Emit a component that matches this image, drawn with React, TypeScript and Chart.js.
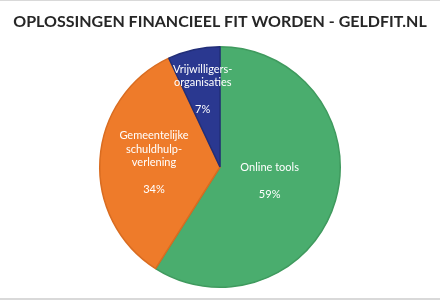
import React, { useEffect, useRef } from "react";
import { Chart, registerables } from "chart.js";

Chart.register(...registerables);

const chartTitle = "OPLOSSINGEN FINANCIEEL FIT WORDEN - GELDFIT.NL";
const categories = ["Online tools", "Gemeentelijke schuldhulpverlening", "Vrijwilligersorganisaties"];
const labelLines = [["Online tools"], ["Gemeentelijke", "schuldhulp-", "verlening"], ["Vrijwilligers-", "organisaties"]];
const shares = [59, 34, 7];
const sliceColors = ["#4aad6e", "#ee7b2a", "#2a3890"];
const sliceBorders = ["#3f9a5e", "#d96c20", "#222e78"];

// Distance of each label block from the centre, as a fraction of the radius
const labelRadius = [0.43, 0.55, 0.66];

const sliceLabels = {
  id: "sliceLabels",
  afterDatasetsDraw(chart: any) {
    const { ctx } = chart;
    const meta = chart.getDatasetMeta(0);
    ctx.save();
    ctx.fillStyle = "#ffffff";
    ctx.textAlign = "center";
    ctx.textBaseline = "middle";
    ctx.font = "11px Lato";
    const lineH = 13.5;
    meta.data.forEach((arc: any, i: number) => {
      const p = arc.getProps(["x", "y", "startAngle", "endAngle", "outerRadius"], true);
      const mid = (p.startAngle + p.endAngle) / 2;
      const r = p.outerRadius * labelRadius[i];
      const cx = p.x + Math.cos(mid) * r;
      const cy = p.y + Math.sin(mid) * r;
      const lines = [...labelLines[i], "", shares[i] + "%"];
      const top = cy - ((lines.length - 1) * lineH) / 2;
      lines.forEach((t, k) => {
        if (t) ctx.fillText(t, cx, top + k * lineH);
      });
    });
    ctx.restore();
  },
};

const titleAndFrame = {
  id: "titleAndFrame",
  beforeDraw(chart: any) {
    const { ctx, width, height } = chart;
    ctx.save();
    ctx.fillStyle = "#ffffff";
    ctx.fillRect(0, 0, width, height);
    ctx.fillStyle = "#d9d9d9";
    ctx.fillRect(0, 0, width, 1);
    ctx.fillRect(0, height - 2, width, 2);
    ctx.fillStyle = "#262626";
    ctx.font = "bold 16px Lato";
    ctx.textAlign = "center";
    ctx.textBaseline = "middle";
    ctx.fillText(chartTitle, width / 2, 22);
    ctx.restore();
  },
};

export default function App() {
  const ref = useRef<HTMLCanvasElement>(null);
  useEffect(() => {
    document.body.style.margin = "0";
    const chart = new Chart(ref.current!, {
      type: "pie",
      data: {
        labels: categories,
        datasets: [
          {
            data: shares,
            backgroundColor: sliceColors,
            borderColor: sliceBorders,
            borderWidth: 1.5,
          },
        ],
      },
      options: {
        animation: false,
        responsive: false,
        layout: { padding: { top: 46, bottom: 12, left: 99, right: 99 } },
        plugins: {
          legend: { display: false },
          tooltip: { enabled: false },
          title: { display: false },
        },
      },
      plugins: [titleAndFrame, sliceLabels],
    });
    return () => chart.destroy();
  }, []);
  return <canvas ref={ref} width={440} height={300} style={{ display: "block" }} />;
}
